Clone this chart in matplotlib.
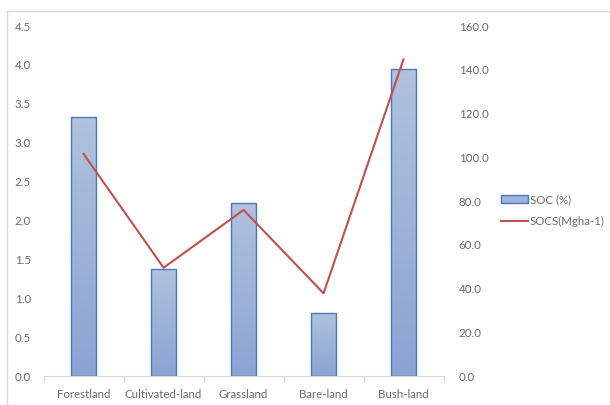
import numpy as np
import matplotlib.pyplot as plt
from matplotlib.lines import Line2D
from matplotlib.patches import Rectangle
from matplotlib.colors import LinearSegmentedColormap

categories = ['Forestland', 'Cultivated-land', 'Grassland', 'Bare-land', 'Bush-land']
soc = [3.33, 1.38, 2.22, 0.81, 3.95]
socs = [101.5, 49.5, 75.9, 37.8, 144.8]

plt.rcParams['font.family'] = ['Lato', 'DejaVu Sans']
txt = '#6b6b6b'
grid_c = '#d9d9d9'
fs = 8.3

fig = plt.figure(figsize=(6.1, 4.05), dpi=100)
ax = fig.add_axes([0.0715, 0.0716, 0.6556, 0.8642])
ax2 = ax.twinx()

x = np.arange(len(categories))
bars = ax.bar(x, soc, width=0.32, color='none', edgecolor='#4a78c2', linewidth=1.0, zorder=3)

# vertical gradient fill inside each bar
grad = np.linspace(0, 1, 100).reshape(-1, 1)
cmap = LinearSegmentedColormap.from_list('g', ['#8aa4d2', '#b1c1de'])
for b in bars:
    im = ax.imshow(grad, cmap=cmap, aspect='auto', origin='lower',
                   extent=[b.get_x(), b.get_x() + b.get_width(), 0, b.get_height()], zorder=2)
    im.set_clip_path(b)

ax.set_xlim(-0.5, 4.5)
ax.set_ylim(0, 4.5)
ax.set_yticks(np.arange(0, 4.51, 0.5))
ax.set_yticklabels([f'{v:.1f}' for v in np.arange(0, 4.51, 0.5)])
ax.set_xticks(x)
ax.set_xticklabels(categories)
ax.set_xticks(np.arange(-0.5, 4.6, 1), minor=True)
ax.tick_params(axis='x', which='major', length=0, pad=9, labelsize=fs, labelcolor=txt)
ax.tick_params(axis='x', which='minor', length=4, color=grid_c, width=1)
ax.tick_params(axis='y', length=0, pad=9, labelsize=fs, labelcolor=txt)

ax2.plot(x, socs, color='#c0504d', linewidth=1.5, zorder=4)
ax2.set_ylim(0, 160)
ax2.set_yticks(np.arange(0, 161, 20))
ax2.set_yticklabels([f'{v:.1f}' for v in np.arange(0, 161, 20)])
ax2.tick_params(axis='y', length=0, pad=11, labelsize=fs, labelcolor=txt)

for a in (ax, ax2):
    for s in ('top', 'left', 'right'):
        a.spines[s].set_visible(False)
ax.spines['bottom'].set_color(grid_c)
ax2.spines['bottom'].set_visible(False)

handles = [Rectangle((0, 0), 1, 1, facecolor='#9fb3d9', edgecolor='#4a78c2', linewidth=1.0),
           Line2D([0], [0], color='#c0504d', linewidth=1.5)]
fig.legend(handles, ['SOC (%)', 'SOCS(Mgha-1)'], loc='center left',
           bbox_to_anchor=(0.805, 0.48), frameon=False, fontsize=fs,
           labelcolor=txt, handlelength=2.3, handletextpad=0.15, labelspacing=1.0)

# chart area border (top and left visible)
fig.add_artist(Line2D([7 / 610, 1], [1 - 11 / 405] * 2, color=grid_c, linewidth=1, transform=fig.transFigure))
fig.add_artist(Line2D([7 / 610] * 2, [0, 1 - 11 / 405], color=grid_c, linewidth=1, transform=fig.transFigure))

fig.savefig('out.png', dpi=100)
